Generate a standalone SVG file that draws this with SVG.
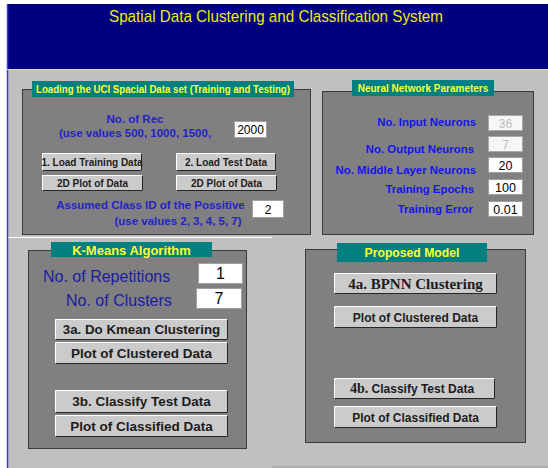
<svg xmlns="http://www.w3.org/2000/svg" width="548" height="468" viewBox="0 0 548 468">
  <style>
    .panel { fill: #808080; stroke: #3a3a3a; stroke-width: 1; }
    .tab { fill: #008080; }
    .tabtxt { fill: #ffff33; font-family: "Liberation Sans", Arial, sans-serif; font-weight: bold; text-anchor: middle; }
    .face { fill: #cbcbcb; }
    .hl { fill: none; stroke: #ffffff; stroke-width: 1; }
    .sh { fill: none; stroke: #262626; stroke-width: 1; }
    .btxt { fill: #1c1c1c; font-family: "Liberation Sans", Arial, sans-serif; font-weight: bold; text-anchor: middle; }
    .serif { font-family: "Liberation Serif", "Times New Roman", serif; }
    .field { fill: #ffffff; stroke: #a0a0a0; stroke-width: 1; }
    .fieldoff { fill: #f6f6f6; stroke: #a8a8a8; stroke-width: 1; }
    .val { fill: #000000; font-family: "Liberation Sans", Arial, sans-serif; text-anchor: middle; }
    .valoff { fill: #bdbdbd; font-family: "Liberation Sans", Arial, sans-serif; text-anchor: middle; font-size: 12px; }
    .lbl1 { fill: #2323c8; font-family: "Liberation Sans", Arial, sans-serif; font-weight: bold; font-size: 11.5px; }
    .lbl2 { fill: #1414ee; font-family: "Liberation Sans", Arial, sans-serif; font-weight: bold; font-size: 11.4px; text-anchor: end; }
    .lbl3 { fill: #1c1ca0; font-family: "Liberation Sans", Arial, sans-serif; font-size: 16px; }
  </style>

  <!-- window background -->
  <rect x="0" y="0" width="548" height="468" fill="#ffffff"/>
  <rect x="7" y="4" width="541" height="65" fill="#000080"/>
  <rect x="7" y="69" width="541" height="399" fill="#c0c0c0"/>
  <line x1="7.5" y1="4" x2="7.5" y2="468" stroke="#3535ff" stroke-width="1.5"/>
  <line x1="7" y1="69.5" x2="548" y2="69.5" stroke="#d8d8d8"/>
  <line x1="8" y1="237.5" x2="272" y2="237.5" stroke="#ffffff"/>
  <line x1="272" y1="467" x2="548" y2="467" stroke="#9c9c9c"/>
  <text x="276" y="21.5" fill="#ecec10" font-family="Liberation Sans, Arial, sans-serif" font-size="17" text-anchor="middle" textLength="334" lengthAdjust="spacingAndGlyphs">Spatial Data Clustering and Classification System</text>

  <!-- data loading panel -->
  <g id="loading-panel">
    <rect class="panel" x="22.5" y="89.5" width="288" height="145"/>
    <rect class="tab" x="32" y="81" width="262" height="16"/>
    <text class="tabtxt" x="163" y="93" font-size="10" textLength="254" lengthAdjust="spacingAndGlyphs">Loading the UCI Spacial Data set (Training and Testing)</text>
    <text class="lbl1" x="135" y="123" text-anchor="middle">No. of Rec</text>
    <text class="lbl1" x="135" y="137" text-anchor="middle">(use values 500, 1000, 1500,</text>
    <rect class="field" x="234.5" y="121.5" width="32" height="16"/>
    <text class="val" x="250.5" y="134" font-size="12">2000</text>

    <rect class="face" x="42" y="153" width="100" height="18"/>
    <path class="hl" d="M42.5 170.5V153.5H141.5"/>
    <path class="sh" d="M42.5 170.5H141.5V153.5"/>
    <text class="btxt" x="92" y="166" font-size="10">1. Load Training Data</text>

    <rect class="face" x="176" y="153" width="100" height="18"/>
    <path class="hl" d="M176.5 170.5V153.5H275.5"/>
    <path class="sh" d="M176.5 170.5H275.5V153.5"/>
    <text class="btxt" x="226" y="166" font-size="10">2. Load Test Data</text>

    <rect class="face" x="42" y="175" width="101" height="16"/>
    <path class="hl" d="M42.5 190.5V175.5H142.5"/>
    <path class="sh" d="M42.5 190.5H142.5V175.5"/>
    <text class="btxt" x="92.5" y="187" font-size="10">2D Plot of Data</text>

    <rect class="face" x="176" y="175" width="101" height="16"/>
    <path class="hl" d="M176.5 190.5V175.5H276.5"/>
    <path class="sh" d="M176.5 190.5H276.5V175.5"/>
    <text class="btxt" x="226.5" y="187" font-size="10">2D Plot of Data</text>

    <text class="lbl1" x="150.5" y="209" text-anchor="middle">Assumed Class ID of the Possitive</text>
    <text class="lbl1" x="178" y="225" text-anchor="middle">(use values 2, 3, 4, 5, 7)</text>
    <rect class="field" x="252.5" y="200.5" width="31" height="17"/>
    <text class="val" x="268" y="214" font-size="12">2</text>
  </g>

  <!-- network parameter panel -->
  <g id="network-panel">
    <rect class="panel" x="322.5" y="91.5" width="211" height="143"/>
    <rect class="tab" x="352" y="80" width="142" height="16"/>
    <text class="tabtxt" x="423" y="92" font-size="10">Neural Network Parameters</text>

    <text class="lbl2" x="476" y="126">No. Input Neurons</text>
    <rect class="fieldoff" x="488.5" y="115.5" width="34" height="15"/>
    <text class="valoff" x="505.5" y="127.5">36</text>

    <text class="lbl2" x="474" y="153">No. Output Neurons</text>
    <rect class="fieldoff" x="488.5" y="136.5" width="34" height="15"/>
    <text class="valoff" x="505.5" y="148.5">7</text>

    <text class="lbl2" x="476" y="174">No. Middle Layer Neurons</text>
    <rect class="field" x="488.5" y="157.5" width="34" height="15"/>
    <text class="val" x="505.5" y="169.5" font-size="12.5">20</text>

    <text class="lbl2" x="474" y="193">Training Epochs</text>
    <rect class="field" x="488.5" y="179.5" width="34" height="15"/>
    <text class="val" x="505.5" y="191.5" font-size="12.5">100</text>

    <text class="lbl2" x="473" y="213">Training Error</text>
    <rect class="field" x="488.5" y="201.5" width="34" height="15"/>
    <text class="val" x="505.5" y="213.5" font-size="12.5">0.01</text>
  </g>

  <!-- k-means panel -->
  <g id="kmeans-panel">
    <rect class="panel" x="28.5" y="250.5" width="218" height="198"/>
    <rect class="tab" x="51" y="242" width="161" height="15"/>
    <text class="tabtxt" x="131.5" y="254.5" font-size="13">K-Means Algorithm</text>

    <text class="lbl3" x="43" y="282">No. of Repetitions</text>
    <rect class="field" x="198.5" y="263.5" width="44" height="20"/>
    <text class="val" x="220.5" y="279" font-size="16">1</text>

    <text class="lbl3" x="66" y="306">No. of Clusters</text>
    <rect class="field" x="196.5" y="288.5" width="45" height="20"/>
    <text class="val" x="219" y="304" font-size="16">7</text>

    <rect class="face" x="55" y="319" width="173" height="21"/>
    <path class="hl" d="M55.5 339.5V319.5H227.5"/>
    <path class="sh" d="M55.5 339.5H227.5V319.5"/>
    <text class="btxt" x="141.5" y="334" font-size="13.3">3a. Do Kmean Clustering</text>

    <rect class="face" x="55" y="342" width="173" height="22"/>
    <path class="hl" d="M55.5 363.5V342.5H227.5"/>
    <path class="sh" d="M55.5 363.5H227.5V342.5"/>
    <text class="btxt" x="141.5" y="358" font-size="13.5">Plot of Clustered Data</text>

    <rect class="face" x="55" y="390" width="173" height="23"/>
    <path class="hl" d="M55.5 412.5V390.5H227.5"/>
    <path class="sh" d="M55.5 412.5H227.5V390.5"/>
    <text class="btxt" x="141.5" y="406" font-size="13.5">3b. Classify Test Data</text>

    <rect class="face" x="55" y="415" width="173" height="22"/>
    <path class="hl" d="M55.5 436.5V415.5H227.5"/>
    <path class="sh" d="M55.5 436.5H227.5V415.5"/>
    <text class="btxt" x="141.5" y="431" font-size="13.5">Plot of Classified Data</text>
  </g>

  <!-- proposed model panel -->
  <g id="proposed-panel">
    <rect class="panel" x="305.5" y="249.5" width="220" height="193"/>
    <rect class="tab" x="337" y="243" width="150" height="19"/>
    <text class="tabtxt" x="412" y="256.5" font-size="12.2">Proposed Model</text>

    <rect class="face" x="334" y="273" width="163" height="21"/>
    <path class="hl" d="M334.5 293.5V273.5H496.5"/>
    <path class="sh" d="M334.5 293.5H496.5V273.5"/>
    <text class="btxt serif" x="415.5" y="288.5" font-size="15">4a. BPNN Clustering</text>

    <rect class="face" x="334" y="306" width="163" height="22"/>
    <path class="hl" d="M334.5 327.5V306.5H496.5"/>
    <path class="sh" d="M334.5 327.5H496.5V306.5"/>
    <text class="btxt" x="415.5" y="321.5" font-size="12">Plot of Clustered Data</text>

    <rect class="face" x="334" y="378" width="161" height="21"/>
    <path class="hl" d="M334.5 398.5V378.5H494.5"/>
    <path class="sh" d="M334.5 398.5H494.5V378.5"/>
    <text class="btxt" x="412" y="393" font-size="12"><tspan class="serif" style="font-size:14px">4b.</tspan> Classify Test Data</text>

    <rect class="face" x="334" y="406" width="163" height="22"/>
    <path class="hl" d="M334.5 427.5V406.5H496.5"/>
    <path class="sh" d="M334.5 427.5H496.5V406.5"/>
    <text class="btxt" x="415.5" y="421.5" font-size="12">Plot of Classified Data</text>
  </g>
</svg>
